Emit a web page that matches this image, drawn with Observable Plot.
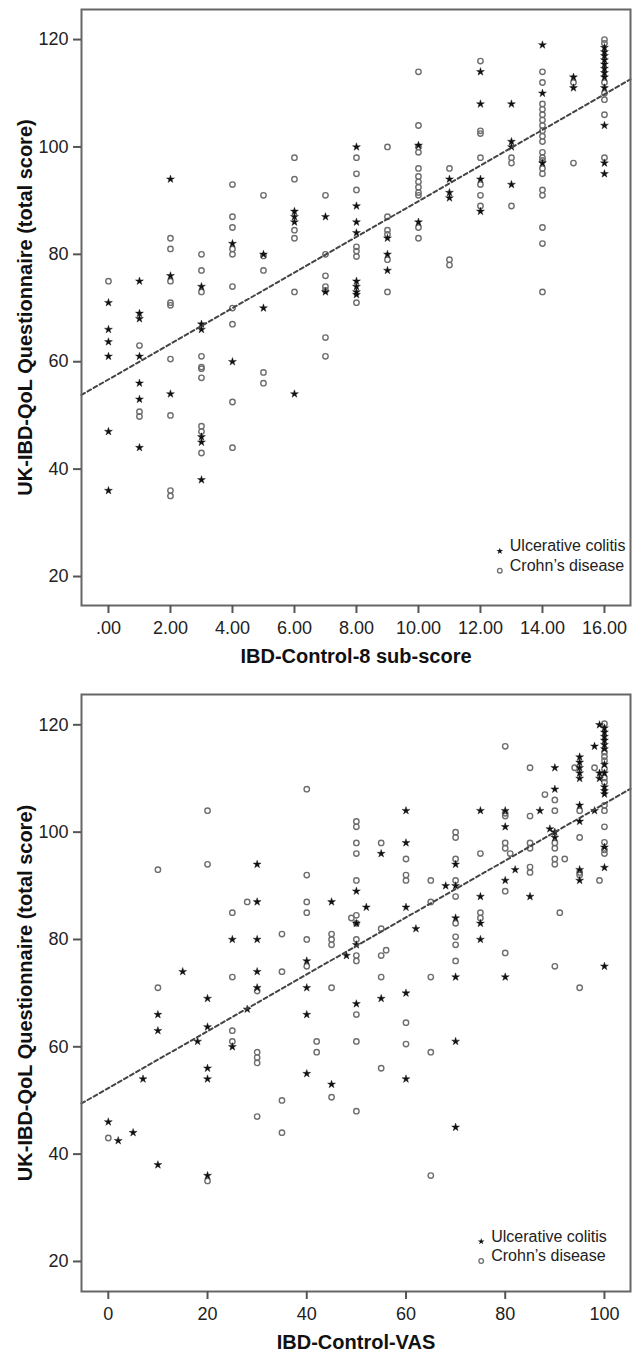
<!DOCTYPE html>
<html><head><meta charset="utf-8">
<script src="https://cdn.jsdelivr.net/npm/d3@7"></script>
<script src="https://cdn.jsdelivr.net/npm/@observablehq/plot@0.6"></script>
<style>
body{margin:0;background:#fff;}
#chart svg{display:block;}
</style></head><body><div id="chart"></div>
<script>
// ---------- DATA ----------
const seriesNames = ["Ulcerative colitis", "Crohn\u2019s disease"];
const yTitle = "UK-IBD-QoL Questionnaire (total score)";
const xTitleTop = "IBD-Control-8 sub-score";
const xTitleBottom = "IBD-Control-VAS";

const yTicks = [20, 40, 60, 80, 100, 120];
const xTicksTop = [0, 2, 4, 6, 8, 10, 12, 14, 16];
const xTickLabelsTop = [".00", "2.00", "4.00", "6.00", "8.00", "10.00", "12.00", "14.00", "16.00"];
const xTicksBottom = [0, 20, 40, 60, 80, 100];

// Top panel: IBD-Control-8 sub-score (x) vs total score (y)
const ucTop = [
  [0,71],[0,66],[0,63.7],[0,61],[0,47],[0,36],
  [1,75],[1,69],[1,68],[1,61],[1,56],[1,53],[1,44],
  [2,94],[2,76],[2,54],
  [3,74],[3,67],[3,66],[3,46],[3,45],[3,38],
  [4,82],[4,60],
  [5,80],[5,70],
  [6,88],[6,87],[6,86],[6,54],
  [7,87],[7,73],
  [8,100],[8,89],[8,86],[8,84],[8,75],[8,74],[8,73],[8,72.5],
  [9,83],[9,80],[9,77],
  [10,100.3],[10,86],
  [11,94],[11,91.5],[11,90.5],
  [12,114],[12,108],[12,94],[12,88],
  [13,108],[13,101],[13,100],[13,93],
  [14,119],[14,110],[14,97],
  [15,113],[15,111],
  [16,118.5],[16,117.7],[16,117],[16,116.2],[16,115.4],[16,114.6],[16,113.8],[16,113],[16,111],[16,104],[16,97],[16,95]
];
const cdTop = [
  [0,75],
  [1,63],[1,50.7],[1,49.8],
  [2,83],[2,81],[2,75],[2,71],[2,70.5],[2,60.5],[2,50],[2,36],[2,35],
  [3,80],[3,77],[3,73],[3,61],[3,59],[3,58.7],[3,57],[3,48],[3,47],[3,43],
  [4,93],[4,87],[4,85],[4,81],[4,80],[4,74],[4,70],[4,67],[4,52.5],[4,44],
  [5,91],[5,79.7],[5,77],[5,58],[5,56],
  [6,98],[6,94],[6,84.5],[6,83],[6,73],
  [7,91],[7,80],[7,76],[7,74],[7,73.3],[7,64.5],[7,61],
  [8,98],[8,95],[8,92],[8,81.4],[8,80.6],[8,79.6],[8,71],
  [9,100],[9,87],[9,84.5],[9,83.7],[9,79],[9,73],
  [10,114],[10,104],[10,100],[10,99],[10,96],[10,94.5],[10,93.5],[10,92.5],[10,91.5],[10,91],[10,85],[10,83],
  [11,96],[11,79],[11,78],
  [12,116],[12,103],[12,102.5],[12,98],[12,93],[12,91],[12,89],
  [13,98],[13,97],[13,89],
  [14,114],[14,112],[14,108],[14,107],[14,106],[14,105],[14,104],[14,103],[14,102],[14,101],[14,99],[14,98],[14,97.5],[14,96],[14,95],[14,92],[14,91],[14,85],[14,82],[14,73],
  [15,112],[15,97],
  [16,120],[16,119.3],[16,112],[16,110],[16,108.8],[16,106],[16,98]
];

// Bottom panel: IBD-Control-VAS (x) vs total score (y)
const ucBottom = [
  [0,46],[2,42.5],[5,44],[7,54],[10,66],[10,63],[10,38],[15,74],[18,61],
  [20,69],[20,63.7],[20,56],[20,54],[20,36],[25,80],[25,60],[28,67],
  [30,94],[30,87],[30,80],[30,74],[30,71],[40,76],[40,71],[40,66],[40,55],
  [45,87],[45,53],[48,77],[50,89],[50,83],[50,79],[50,68],[52,86],[55,96],[55,69],
  [60,104],[60,98],[60,86],[60,70],[60,54],[62,82],[68,90],
  [70,94],[70,90],[70,84],[70,73],[70,61],[70,45],
  [75,104],[75,88],[75,83],[75,80],[80,104],[80,101],[80,91],[80,73],[82,93],
  [85,88],[87,104],[89,100.6],[90,112],[90,108],[90,100],[90,99],
  [95,114],[95,113],[95,112],[95,111],[95,110],[95,105],[95,102],[95,93],[95,91],
  [98,116],[98,104],[99,120],[99,111],[99,110],
  [100,119.4],[100,118.6],[100,117.8],[100,117.1],[100,116.3],[100,115.5],[100,112.6],[100,111],
  [100,108.4],[100,107.7],[100,107.1],[100,97.2],[100,93.4],[100,75]
];
const cdBottom = [
  [0,43],[10,93],[10,71],[20,104],[20,94],[20,35],[25,85],[25,73],[25,63],[25,61],[28,87],
  [30,70.4],[30,59],[30,58],[30,57],[30,47],[35,81],[35,74],[35,50],[35,44],
  [40,108],[40,92],[40,87],[40,85],[40,80],[40,75],[42,61],[42,59],
  [45,81],[45,80],[45,79],[45,71],[45,50.6],[49,84],
  [50,102],[50,101],[50,98],[50,96],[50,91],[50,84.5],[50,83],[50,80],[50,77],[50,76],[50,66],[50,61],[50,48],
  [55,98],[55,82],[55,77],[56,78],[55,73],[55,56],
  [60,95],[60,92],[60,91],[60,64.5],[60,60.5],[65,91],[65,87],[65,73],[65,59],[65,36],
  [70,100],[70,99],[70,95],[70,91],[70,88],[70,83],[70,80.5],[70,79],[70,76],
  [75,96],[75,85],[75,84],[80,116],[80,103.5],[80,103],[80,98],[80,97],[80,89],[80,77.5],[81,96],
  [85,112],[85,103],[85,98],[85,97],[85,93.5],[85,92.5],[88,107],
  [90,106],[90,104],[90,98],[90,97],[90,95],[90,94],[90,75],[91,85],[92,95],
  [94,112],[95,104],[95,99],[95,92.5],[95,92],[95,71],[98,112],[99,91],
  [100,120.2],[100,114.9],[100,114.1],[100,113.3],[100,111.8],[100,110.1],[100,109.3],
  [100,105],[100,104],[100,101],[100,98.1],[100,96.7],[100,96]
];

// Fit lines [intercept, slope]
const fitTop = [56.7, 3.32];
const fitBottom = [52.3, 0.53];

// ---------- DRAW ----------
const FONT = "'Liberation Sans', Arial, Helvetica, sans-serif";

function panel({uc, cd, fit, xDomain, yDomain, xTicks, xFormat, xTitle, marginTop, marginBottom, legend}) {
  const lineData = xDomain.map(x => [x, fit[0] + fit[1] * x]);
  return Plot.plot({
    width: 638,
    height: 677,
    marginLeft: 81,
    marginRight: 8,
    marginTop,
    marginBottom,
    style: {fontFamily: FONT, fontSize: "18px", background: "#fff", color: "#222", overflow: "visible"},
    x: {domain: xDomain},
    y: {domain: yDomain},
    marks: [
      Plot.dot(cd, {x: d => d[0], y: d => d[1], r: 2.7, stroke: "#6e6e6e", strokeWidth: 1.4, fill: "none"}),
      Plot.dot(uc, {x: d => d[0], y: d => d[1], symbol: "star", r: 2.5, fill: "#111", stroke: "#111", strokeWidth: 0.4}),
      Plot.line(lineData, {x: d => d[0], y: d => d[1], stroke: "#444", strokeWidth: 2, strokeDasharray: "4,3"}),
      Plot.frame({stroke: "#666", strokeWidth: 2}),
      Plot.axisX(xTicks, {tickFormat: xFormat, tickSize: 8, tickPadding: 8, stroke: "#555", strokeWidth: 2, fontSize: 18, label: null}),
      Plot.axisY(yTicks, {tickSize: 8, tickPadding: 5, stroke: "#555", strokeWidth: 2, fontSize: 18, label: null}),
      Plot.text([xTitle], {text: d => d, frameAnchor: "bottom", dy: 57, fontWeight: "bold", fontSize: 20, fill: "#111"}),
      Plot.text([yTitle], {text: d => d, frameAnchor: "left", textAnchor: "middle", rotate: -90, dx: -56, fontWeight: "bold", fontSize: 20, fill: "#111"}),
      Plot.dot([0], {frameAnchor: "bottom-right", dx: legend.dx, dy: legend.dy, symbol: "star", r: 2.1, fill: "#111"}),
      Plot.dot([0], {frameAnchor: "bottom-right", dx: legend.dx, dy: legend.dy + 19.5, r: 2.3, stroke: "#6e6e6e", strokeWidth: 1.3, fill: "none"}),
      Plot.text([seriesNames[0]], {text: d => d, frameAnchor: "bottom-right", dx: legend.dx + 10, dy: legend.dy, textAnchor: "start", fontSize: 16, fill: "#222"}),
      Plot.text([seriesNames[1]], {text: d => d, frameAnchor: "bottom-right", dx: legend.dx + 10, dy: legend.dy + 19.5, textAnchor: "start", fontSize: 16, fill: "#222"})
    ]
  });
}

const chart = document.getElementById("chart");
chart.appendChild(panel({
  uc: ucTop, cd: cdTop, fit: fitTop,
  xDomain: [-0.87, 16.84], yDomain: [14.6, 125.6],
  xTicks: xTicksTop, xFormat: (d, i) => xTickLabelsTop[xTicksTop.indexOf(d)],
  xTitle: xTitleTop, marginTop: 9, marginBottom: 72,
  legend: {dx: -130.7, dy: -54.3}
}));
chart.appendChild(panel({
  uc: ucBottom, cd: cdBottom, fit: fitBottom,
  xDomain: [-5.4, 105.25], yDomain: [14.4, 125.65],
  xTicks: xTicksBottom, xFormat: d => String(d),
  xTitle: xTitleBottom, marginTop: 17, marginBottom: 63,
  legend: {dx: -149.3, dy: -50}
}));
</script></body></html>
